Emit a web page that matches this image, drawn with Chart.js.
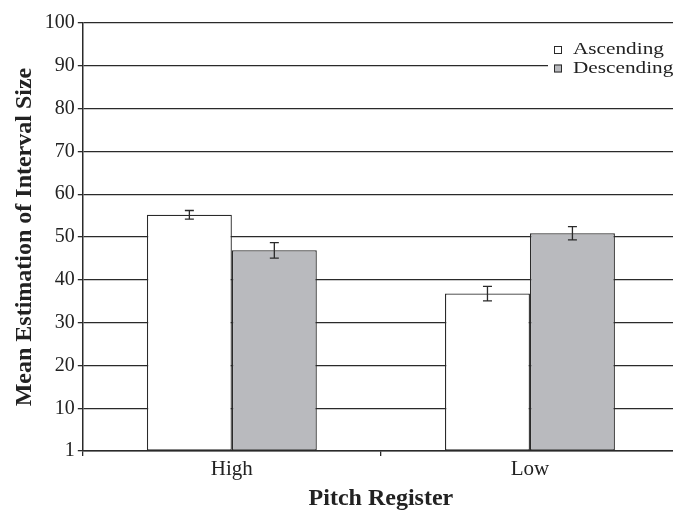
<!DOCTYPE html>
<html>
<head>
<meta charset="utf-8">
<script src="https://cdn.jsdelivr.net/npm/chart.js@4"></script>
<style>
  html, body { margin: 0; padding: 0; background: #fff; overflow: hidden; }
  #wrap { width: 680px; height: 513px; }
</style>
</head>
<body>
<div id="wrap"><canvas id="chart"></canvas></div>
<script>
const categories = ["High", "Low"];
const seriesNames = ["Ascending", "Descending"];
const ascending = [55.2, 36.8];
const descending = [46.9, 50.9];
const ascendingErr = [1.0, 1.7];
const descendingErr = [1.8, 1.55];
const yTickLabels = ["1", "10", "20", "30", "40", "50", "60", "70", "80", "90", "100"];

const FONT = "'Liberation Serif', 'Times New Roman', serif";
const INK = "#2a2a2a";

// error bars drawn from the dataset's err array
const errorBars = {
  id: "errorBars",
  afterDatasetsDraw(chart) {
    const ctx = chart.ctx;
    const y = chart.scales.y;
    chart.data.datasets.forEach((ds, i) => {
      const meta = chart.getDatasetMeta(i);
      meta.data.forEach((bar, j) => {
        const v = ds.data[j], e = ds.err[j];
        const top = y.getPixelForValue(v + e);
        const bot = y.getPixelForValue(v - e);
        ctx.save();
        ctx.strokeStyle = INK;
        ctx.lineWidth = 1.3;
        ctx.beginPath();
        ctx.moveTo(bar.x, top); ctx.lineTo(bar.x, bot);
        ctx.moveTo(bar.x - 4.5, top); ctx.lineTo(bar.x + 4.5, top);
        ctx.moveTo(bar.x - 4.5, bot); ctx.lineTo(bar.x + 4.5, bot);
        ctx.stroke();
        ctx.restore();
      });
    });
  }
};

// legend sitting over the top right of the plot
const boxLegend = {
  id: "boxLegend",
  afterDraw(chart) {
    const ctx = chart.ctx;
    ctx.save();
    ctx.fillStyle = "#fff";
    ctx.fillRect(548, 36, 140, 48);
    ctx.font = "17px " + FONT;
    ctx.textBaseline = "middle";
    chart.data.datasets.forEach((ds, i) => {
      const cy = 50 + i * 18.5;
      ctx.fillStyle = ds.backgroundColor;
      ctx.fillRect(554, cy - 4, 8, 8);
      ctx.strokeStyle = INK;
      ctx.lineWidth = 1;
      ctx.strokeRect(554.5, cy - 3.5, 7, 7);
      ctx.fillStyle = "#222";
      ctx.save();
      ctx.translate(573, cy);
      ctx.scale(1.25, 1);
      ctx.fillText(ds.label, 0, 0);
      ctx.restore();
    });
    ctx.restore();
  }
};

new Chart(document.getElementById("chart"), {
  type: "bar",
  data: {
    labels: categories,
    datasets: [
      { label: seriesNames[0], data: ascending, err: ascendingErr, backgroundColor: "#ffffff" },
      { label: seriesNames[1], data: descending, err: descendingErr, backgroundColor: "#b9babe" }
    ]
  },
  options: {
    responsive: true,
    maintainAspectRatio: false,
    animation: false,
    layout: { padding: { top: 23, right: 1, bottom: 0, left: 7 } },
    datasets: {
      bar: {
        borderColor: INK,
        borderWidth: 1.3,
        borderSkipped: false,
        categoryPercentage: 0.57,
        barPercentage: 1.0
      }
    },
    plugins: {
      legend: { display: false },
      tooltip: { enabled: false }
    },
    scales: {
      x: {
        grid: { drawOnChartArea: false, drawTicks: true, tickLength: 5, color: INK, lineWidth: 1.3 },
        border: { color: INK, width: 1.5 },
        ticks: { color: "#222", font: { family: FONT, size: 21, lineHeight: 1.1 }, padding: 2 },
        title: {
          display: true, text: "Pitch Register", color: "#222",
          font: { family: FONT, size: 24, weight: "bold" }, padding: { top: 1, bottom: 0 }
        }
      },
      y: {
        min: 0, max: 100,
        grid: { color: INK, lineWidth: 1.3, tickLength: 5 },
        border: { color: INK, width: 1.5 },
        ticks: {
          stepSize: 10, color: "#222", padding: 3,
          font: { family: FONT, size: 20 },
          callback: (v, i) => yTickLabels[i]
        },
        title: {
          display: true, text: "Mean Estimation of Interval Size", color: "#222",
          font: { family: FONT, size: 24, weight: "bold" }, padding: { top: 3, bottom: 3 }
        }
      }
    }
  },
  plugins: [errorBars, boxLegend]
});
</script>
</body>
</html>
